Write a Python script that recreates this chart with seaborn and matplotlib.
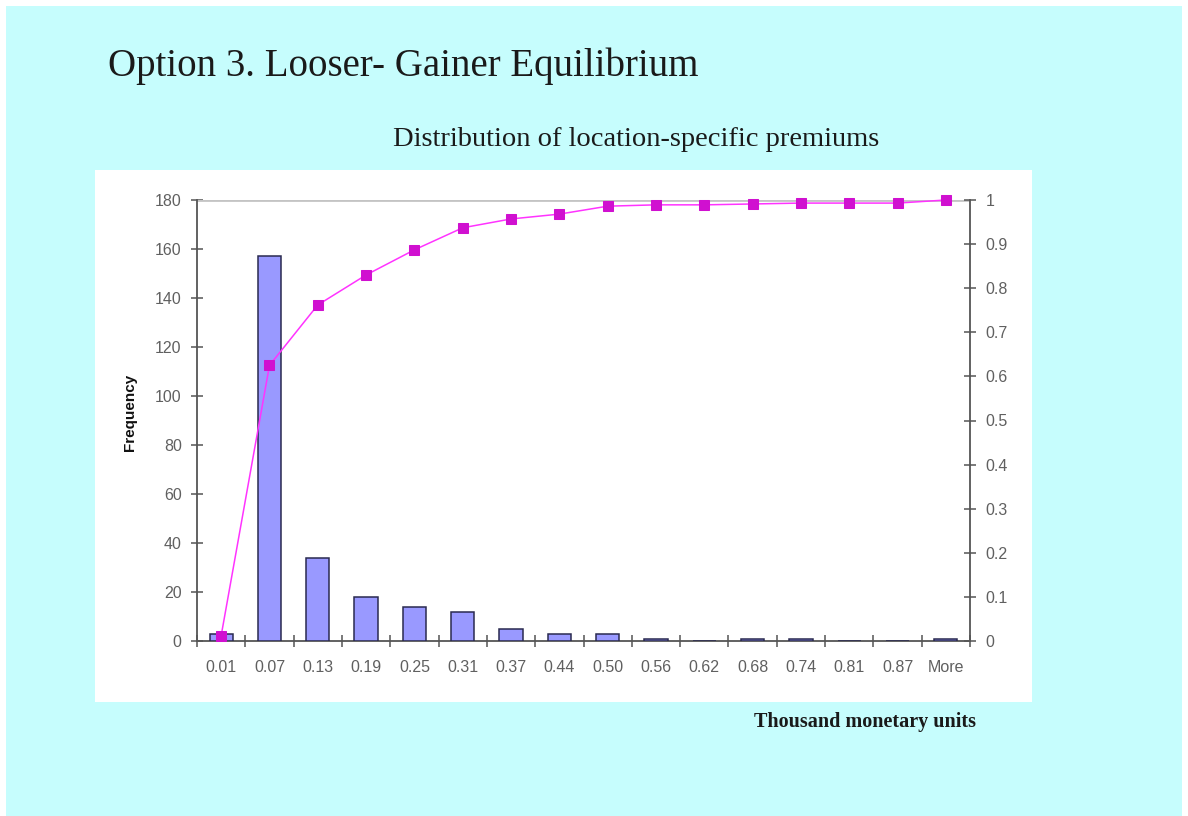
import matplotlib
matplotlib.use("Agg")
import matplotlib.pyplot as plt
from matplotlib.patches import Rectangle
import numpy as np
import pandas as pd
import seaborn as sns

# Histogram bins (upper bin edges, thousand monetary units)
bins = ["0.01", "0.07", "0.13", "0.19", "0.25", "0.31", "0.37", "0.44",
        "0.50", "0.56", "0.62", "0.68", "0.74", "0.81", "0.87", "More"]
frequency = [3, 157, 34, 18, 14, 12, 5, 3, 3, 1, 0, 1, 1, 0, 0, 1]
cumulative = [0.012, 0.625, 0.762, 0.830, 0.887, 0.937, 0.957, 0.968,
              0.986, 0.989, 0.989, 0.991, 0.993, 0.993, 0.993, 1.0]

left_ticks = [0, 20, 40, 60, 80, 100, 120, 140, 160, 180]
right_ticks = [0, 0.1, 0.2, 0.3, 0.4, 0.5, 0.6, 0.7, 0.8, 0.9, 1]
right_labels = ["0", "0.1", "0.2", "0.3", "0.4", "0.5", "0.6", "0.7", "0.8", "0.9", "1"]

df = pd.DataFrame({"bin": bins, "frequency": frequency, "cumulative": cumulative})

sns.set_theme(style="white")
plt.rcParams["font.family"] = ["Liberation Sans", "DejaVu Sans"]

W, H = 1188, 816
fig = plt.figure(figsize=(W / 100, H / 100), dpi=100)
fig.patch.set_facecolor("white")

# slide background and white chart panel
fig.add_artist(Rectangle((6 / W, 0), (1182 - 6) / W, 1 - 6 / H,
                         transform=fig.transFigure, facecolor="#C6FDFD",
                         edgecolor="none", zorder=0))
fig.add_artist(Rectangle((95 / W, 1 - 702 / H), (1032 - 95) / W, (702 - 170) / H,
                         transform=fig.transFigure, facecolor="white",
                         edgecolor="none", zorder=0))

tick_grey = "#606060"
ax_l, ax_r, ax_t, ax_b = 197, 970, 200, 641
ax = fig.add_axes([ax_l / W, 1 - ax_b / H, (ax_r - ax_l) / W, (ax_b - ax_t) / H])
ax.set_facecolor("none")

sns.barplot(data=df, x="bin", y="frequency", ax=ax, color="#9999FF",
            saturation=1, width=0.48, edgecolor="#2A2A50", linewidth=1.1,
            zorder=3)
ax.set_xlim(-0.5, len(bins) - 0.5)
ax.set_ylim(0, 180)
ax.set_yticks(left_ticks)
ax.set_yticklabels([str(t) for t in left_ticks])
ax.set_xlabel("")
ax.set_ylabel("")
fig.text(130 / W, 1 - 412 / H, "Frequency", rotation=90, fontsize=11,
         fontweight="bold", color="#111111", va="center", ha="center")

# top border line of the plot area
ax.axhline(180, color="#C4C4C4", linewidth=2.0, zorder=1)

for side in ["top", "right"]:
    ax.spines[side].set_visible(False)
for side in ["left", "bottom"]:
    ax.spines[side].set_color("#555555")
    ax.spines[side].set_linewidth(1.3)

ax.tick_params(axis="y", direction="inout", length=8, width=1.1, color="#555555",
               labelsize=11.5, labelcolor=tick_grey, pad=7, left=True)
ax.set_xticks(np.arange(len(bins)))
ax.set_xticklabels(bins)
ax.tick_params(axis="x", length=0, labelsize=11.5, labelcolor=tick_grey, pad=14)
# tick marks between categories on the category axis
ax.set_xticks(np.arange(len(bins) + 1) - 0.5, minor=True)
ax.tick_params(axis="x", which="minor", direction="inout", length=8, width=1.1,
               color="#555555", bottom=True)

ax2 = ax.twinx()
sns.lineplot(x=np.arange(len(bins)), y=cumulative, ax=ax2, color="#FF33FF",
             linewidth=1.1, marker="s", markersize=7, markerfacecolor="#D010D0",
             markeredgecolor="#D010D0", zorder=5, clip_on=False)
ax2.set_ylim(0, 1)
ax2.set_yticks(right_ticks)
ax2.set_yticklabels(right_labels)
ax2.grid(False)
for side in ["top", "left", "bottom"]:
    ax2.spines[side].set_visible(False)
ax2.spines["right"].set_color("#555555")
ax2.spines["right"].set_linewidth(1.3)
ax2.tick_params(axis="y", direction="inout", length=8, width=1.1, color="#555555",
                labelsize=11.5, labelcolor=tick_grey, pad=7, right=True)

serif = ["Liberation Serif", "DejaVu Serif"]
fig.text(108 / W, 1 - 66 / H, "Option 3. Looser- Gainer Equilibrium",
         fontsize=28, family=serif, color="#1A1A1A", va="center", ha="left")
fig.text(636 / W, 1 - 139 / H, "Distribution of location-specific premiums",
         fontsize=20.5, family=serif, color="#1A1A1A", va="center", ha="center")
fig.text(865 / W, 1 - 722 / H, "Thousand monetary units",
         fontsize=14.5, family=serif, fontweight="bold", color="#1A1A1A",
         va="center", ha="center")

fig.savefig("out.png", dpi=100, facecolor=fig.get_facecolor())
